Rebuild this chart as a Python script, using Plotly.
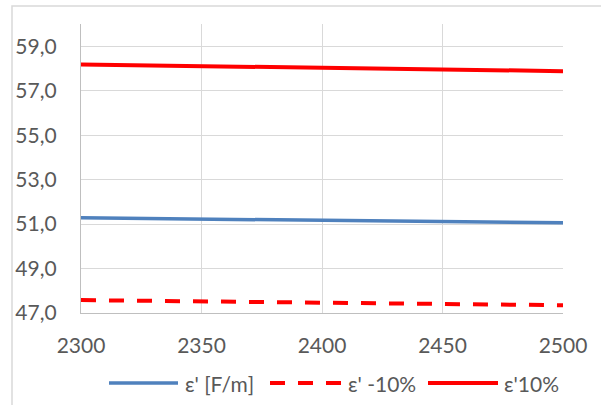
import plotly.graph_objects as go

freq = [2300, 2350, 2400, 2450, 2500]
eps = [51.28, 51.23, 51.17, 51.12, 51.06]
eps_minus10 = [47.58, 47.52, 47.46, 47.41, 47.35]
eps_plus10 = [58.18, 58.11, 58.03, 57.96, 57.88]
names = ["ε' [F/m]", "ε' -10%", "ε'10%"]
y_ticks = [47, 49, 51, 53, 55, 57, 59]
x_ticks = [2300, 2350, 2400, 2450, 2500]

FONT = "Lato"
FS = 21
TXT = "#595959"
BLUE = "#4F81BD"
RED = "#FF0000"
DASH = "15px,13px"

W, H = 601, 405
L, R, T, B = 81, 38, 24, 92
PW, PH = W - L - R, H - T - B


def px(x):
    return (x - L) / PW


def py(y):
    return (H - B - y) / PH


fig = go.Figure()
fig.add_trace(go.Scatter(x=freq, y=eps, mode="lines", name=names[0],
                         line=dict(color=BLUE, width=3.5)))
fig.add_trace(go.Scatter(x=freq, y=eps_minus10, mode="lines", name=names[1],
                         line=dict(color=RED, width=4, dash=DASH)))
fig.add_trace(go.Scatter(x=freq, y=eps_plus10, mode="lines", name=names[2],
                         line=dict(color=RED, width=4)))

# legend drawn manually (Excel style long samples)
leg_y = py(383)
samples = [(109, 178, BLUE, "solid", 3.5), (270, 342, RED, DASH, 4), (428, 498, RED, "solid", 4)]
text_x = [185, 348, 504]
shapes = [dict(type="rect", xref="paper", yref="paper",
               x0=px(12), x1=px(W + 20), y0=py(H + 20), y1=py(6),
               line=dict(color="#d9d9d9", width=1.5), layer="above")]
annotations = []
for (x0, x1, c, d, w), tx, nm in zip(samples, text_x, names):
    shapes.append(dict(type="line", xref="paper", yref="paper",
                       x0=px(x0), x1=px(x1), y0=leg_y, y1=leg_y,
                       line=dict(color=c, width=w, dash=d)))
    annotations.append(dict(xref="paper", yref="paper", x=px(tx) - 2 / PW, y=leg_y,
                            text=nm, showarrow=False, xanchor="left", yanchor="middle",
                            font=dict(family=FONT, size=FS, color=TXT)))

fig.update_layout(
    width=W, height=H,
    margin=dict(l=L, r=R, t=T, b=B),
    paper_bgcolor="white", plot_bgcolor="white",
    separators=", ",
    font=dict(family=FONT, size=FS, color=TXT),
    showlegend=False,
    xaxis=dict(range=[2300, 2500], tickvals=x_ticks, showgrid=True,
               gridcolor="#d9d9d9", gridwidth=1.3, showline=True,
               linecolor="#bfbfbf", linewidth=1.3, zeroline=False,
               ticks="", ticklabelstandoff=14,
               tickfont=dict(family=FONT, size=FS, color=TXT)),
    yaxis=dict(range=[47, 60], tickvals=y_ticks, tickformat=".1f",
               showgrid=True, gridcolor="#d9d9d9", gridwidth=1.3,
               showline=True, linecolor="#bfbfbf", linewidth=1.3,
               zeroline=False, ticks="", ticklabelstandoff=19,
               tickfont=dict(family=FONT, size=FS, color=TXT)),
    shapes=shapes,
    annotations=annotations,
)

fig.write_html("out.html", config={"displayModeBar": False},
               post_script="document.body.style.margin='0';document.body.style.overflow='hidden';")
